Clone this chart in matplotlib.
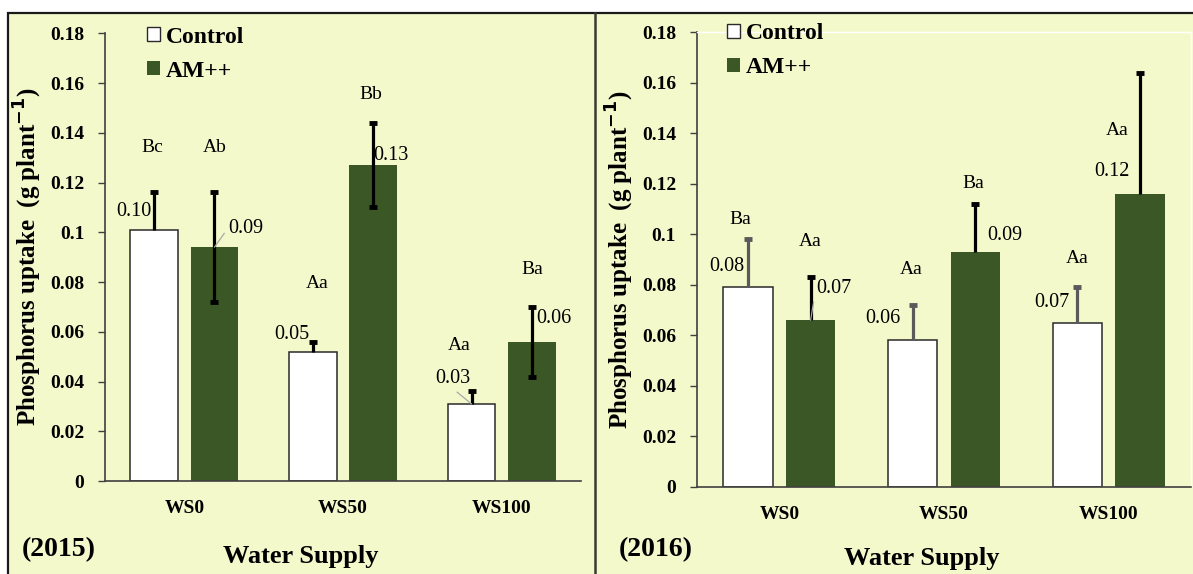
import matplotlib
matplotlib.use("Agg")
import matplotlib.pyplot as plt
from matplotlib.patches import Patch, Rectangle
from matplotlib.lines import Line2D

# データ ################
categories = ["WS0", "WS50", "WS100"]
series_names = ["Control", "AM++"]

# 2015
ctrl_2015 = [0.101, 0.052, 0.031]
ctrl_err_2015 = [0.015, 0.004, 0.005]
am_2015 = [0.094, 0.127, 0.056]
am_err_2015 = [0.022, 0.017, 0.014]
ctrl_txt_2015 = ["0.10", "0.05", "0.03"]
am_txt_2015 = ["0.09", "0.13", "0.06"]
ctrl_let_2015 = ["Bc", "Aa", "Aa"]
am_let_2015 = ["Ab", "Bb", "Ba"]

# 2016
ctrl_2016 = [0.079, 0.058, 0.065]
ctrl_err_2016 = [0.019, 0.014, 0.014]
am_2016 = [0.066, 0.093, 0.116]
am_err_2016 = [0.017, 0.019, 0.048]
ctrl_txt_2016 = ["0.08", "0.06", "0.07"]
am_txt_2016 = ["0.07", "0.09", "0.12"]
ctrl_let_2016 = ["Ba", "Aa", "Aa"]
am_let_2016 = ["Aa", "Ba", "Aa"]

yticks = [0, 0.02, 0.04, 0.06, 0.08, 0.1, 0.12, 0.14, 0.16, 0.18]
ytick_labels = ["0", "0.02", "0.04", "0.06", "0.08", "0.1", "0.12", "0.14", "0.16", "0.18"]
#########################

BG = "#F4F9CC"
GREEN = "#3A5725"
AXC = "#404040"
SERIF = "Liberation Serif"

plt.rcParams["font.family"] = SERIF

fig = plt.figure(figsize=(11.93, 5.74), dpi=100)
fig.patch.set_facecolor("white")

# 背景の枠
fig.patches.append(Rectangle((8 / 1193, -0.01), 1.0, 1 - 13 / 574 + 0.01, transform=fig.transFigure,
                             facecolor=BG, edgecolor="#1a1a1a", linewidth=1.6, zorder=-2))
fig.lines.append(Line2D([595 / 1193, 595 / 1193], [0, 1 - 13 / 574], transform=fig.transFigure,
                        color="#3a3a30", linewidth=1.8, zorder=-1))

# ラベル位置の調整 (pixel offsets)
lay_2015 = dict(
    ctrl_let=[(-2, 45), (4, 58), (-12, 46)],
    am_let=[(0, 45), (-2, 28), (0, 37)],
    ctrl_val=[(-20, 18), (-21, 17), (-19, 25)],
    am_val=[(31, 19), (18, 10), (22, 23)],
    ctrl_err_color="black",
    am_lower=True,
    ctrl_leader=[False, False, True],
    am_leader=[True, False, False],
)
lay_2016 = dict(
    ctrl_let=[(-8, 20), (-1, 36), (0, 29)],
    am_let=[(0, 36), (-2, 21), (-23, -58)],
    ctrl_val=[(-21, 21), (-30, 22), (-25, 20)],
    am_val=[(23, 32), (30, 17), (-28, 22)],
    ctrl_err_color="#5a5a5a",
    am_lower=False,
    ctrl_leader=[False, False, False],
    am_leader=[True, False, False],
)


def err_bars(ax, xs, vals, up, low, color):
    # 上側キャップのみ (下側はある時だけ)
    ax.errorbar(xs, vals, yerr=[low, up], fmt="none", ecolor=color, elinewidth=2.3, capsize=0, zorder=3)
    ax.plot(xs, [v + e for v, e in zip(vals, up)], ls="none", marker="_", ms=6, mew=3.5, color=color, zorder=3)
    if any(low):
        ax.plot(xs, [v - e for v, e in zip(vals, low)], ls="none", marker="_", ms=6, mew=3.5, color=color,
                zorder=3)


def draw_panel(ax, ctrl, ctrl_err, am, am_err, ctrl_txt, am_txt, ctrl_let, am_let, lay, white_frame):
    ax.set_facecolor(BG)
    x = range(len(categories))
    off, w = 0.19, 0.30
    xc = [i - off for i in x]
    xa = [i + off for i in x]
    ax.bar(xc, ctrl, w, color="white", edgecolor="#2a2a2a", linewidth=1.1, zorder=2)
    ax.bar(xa, am, w, color=GREEN, edgecolor="none", zorder=2)
    err_bars(ax, xc, ctrl, ctrl_err, [0] * 3, lay["ctrl_err_color"])
    err_bars(ax, xa, am, am_err, am_err if lay["am_lower"] else [0] * 3, "black")

    for i in x:
        for xs, vals, errs, lets, txts, kl, kv, kd in (
                (xc, ctrl, ctrl_err, ctrl_let, ctrl_txt, "ctrl_let", "ctrl_val", "ctrl_leader"),
                (xa, am, am_err, am_let, am_txt, "am_let", "am_val", "am_leader")):
            ax.annotate(lets[i], (xs[i], vals[i] + errs[i]), xytext=lay[kl][i], textcoords="offset pixels",
                        ha="center", va="center", fontsize=14, zorder=4)
            ap = None
            if lay[kd][i]:
                ap = dict(arrowstyle="-", color="#a8a8a8", lw=0.9, shrinkA=1, shrinkB=0,
                          relpos=(0, 0.5) if xs is xa else (0.5, 0))
            ax.annotate(txts[i], (xs[i], vals[i]), xytext=lay[kv][i], textcoords="offset pixels",
                        ha="center", va="center", fontsize=14.5, zorder=4, arrowprops=ap)

    ax.set_xlim(-0.5, 2.5)
    ax.set_ylim(0, 0.18)
    ax.set_xticks(list(x))
    ax.set_xticklabels(categories, fontsize=14, fontweight="bold")
    ax.set_yticks(yticks)
    ax.set_yticklabels(ytick_labels, fontsize=14, fontweight="bold")
    ax.tick_params(axis="x", length=0, pad=14)
    ax.tick_params(axis="y", length=5, width=1, color=AXC, pad=10, direction="out")
    for s in ("left", "bottom"):
        ax.spines[s].set_color(AXC)
        ax.spines[s].set_linewidth(1.2)
    for s in ("top", "right"):
        if white_frame:
            ax.spines[s].set_color("white")
            ax.spines[s].set_linewidth(1.0)
        else:
            ax.spines[s].set_visible(False)
    ax.set_ylabel("Phosphorus uptake  (g plant$^{\\mathbf{-1}}$)", fontsize=18, fontweight="bold", labelpad=4)

    handles = [Patch(facecolor="white", edgecolor="#2a2a2a", linewidth=1.0),
               Patch(facecolor=GREEN, edgecolor="none")]
    return handles


ax1 = fig.add_axes([0.0880, 0.1620, 0.399, 0.780])
ax2 = fig.add_axes([0.5842, 0.1516, 0.4141, 0.7922])

h = draw_panel(ax1, ctrl_2015, ctrl_err_2015, am_2015, am_err_2015, ctrl_txt_2015, am_txt_2015,
               ctrl_let_2015, am_let_2015, lay_2015, False)
draw_panel(ax2, ctrl_2016, ctrl_err_2016, am_2016, am_err_2016, ctrl_txt_2016, am_txt_2016,
           ctrl_let_2016, am_let_2016, lay_2016, True)

for ax, bx, by in ((ax1, 0.088, 1.015), (ax2, 0.061, 1.020)):
    ax.legend(h, series_names, loc="upper left", bbox_to_anchor=(bx, by), frameon=False,
              prop=dict(family=SERIF, weight="bold", size=17), handlelength=0.55, handleheight=0.55,
              handletextpad=0.25, labelspacing=0.55, borderpad=0, borderaxespad=0)

fig.text(59 / 1193, 1 - 550 / 574, "(2015)", fontsize=20, fontweight="bold", ha="center", va="center")
fig.text(656 / 1193, 1 - 550 / 574, "(2016)", fontsize=20, fontweight="bold", ha="center", va="center")
fig.text(301 / 1193, 1 - 557 / 574, "Water Supply", fontsize=19, fontweight="bold", ha="center", va="center")
fig.text(922 / 1193, 1 - 559 / 574, "Water Supply", fontsize=19, fontweight="bold", ha="center", va="center")

fig.savefig("out.png", dpi=100, facecolor=fig.get_facecolor())
